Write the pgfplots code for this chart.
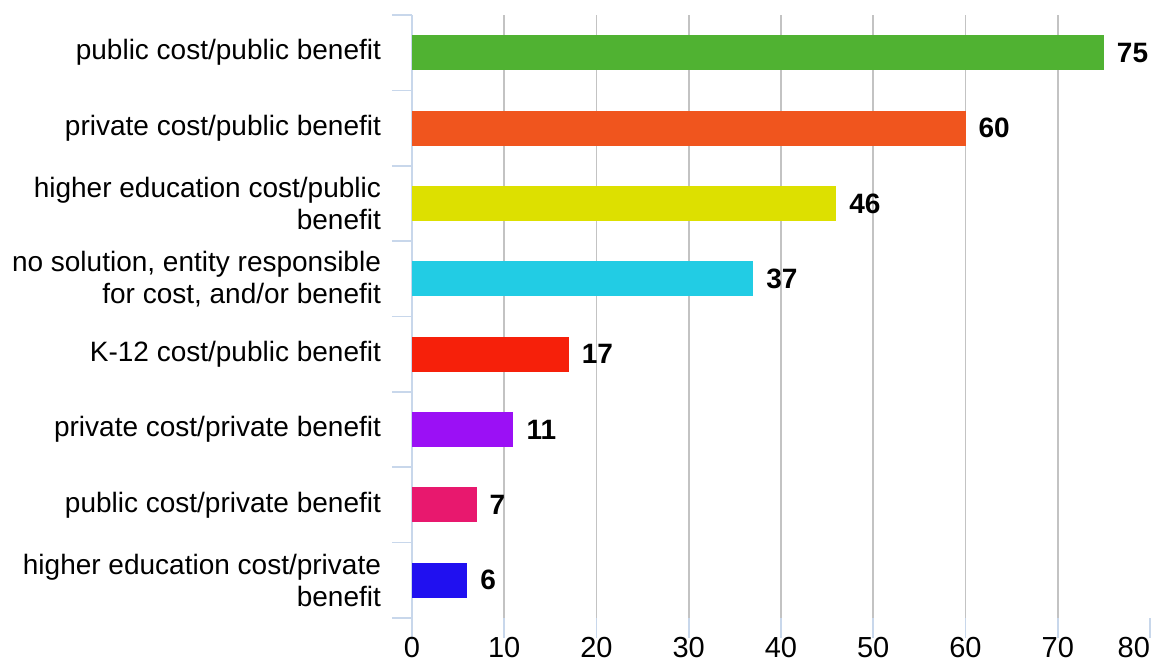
\documentclass[border=0pt]{standalone}
\usepackage{fontspec}
\setmainfont{Liberation Sans}
\usepackage{pgfplots}
\pgfplotsset{compat=1.18}
\definecolor{lb}{RGB}{200,215,235}
\definecolor{gr}{RGB}{195,195,195}
\definecolor{c1}{RGB}{80,178,50}
\definecolor{c2}{RGB}{240,85,30}
\definecolor{c3}{RGB}{221,224,0}
\definecolor{c4}{RGB}{34,204,228}
\definecolor{c5}{RGB}{246,32,10}
\definecolor{c6}{RGB}{155,16,245}
\definecolor{c7}{RGB}{232,24,110}
\definecolor{c8}{RGB}{32,16,240}
\begin{document}
\begin{tikzpicture}
\begin{axis}[
  name=ax,
  scale only axis,
  width=369pt, height=301.5pt,
  xmin=0, xmax=80, ymin=-0.5, ymax=7.5,
  enlarge x limits=false, enlarge y limits=false,
  xbar, bar width=17.5pt, bar shift=0pt,
  /pgf/number format/assume math mode=true,
  axis lines*=left, separate axis lines,
  x axis line style={draw=none},
  y axis line style={draw=lb, line width=1pt, shorten <=-11pt},
  tick align=outside,
  major tick length=10pt,
  xtick={0,10,...,80},
  xticklabels={0,10,20,30,40,50,60,70,\makebox[0pt][r]{80}},
  xtick style={draw=lb, line width=0.8pt},
  extra x ticks={10,20,...,70},
  extra x tick labels={},
  extra x tick style={grid=major, major tick length=0pt, xtick style={draw=none}},
  major grid style={draw=gr, line width=0.9pt},
  ytick={0,...,7},
  yticklabels={{higher education cost/private\\benefit},
    {public cost/private benefit},
    {private cost/private benefit},
    {K-12 cost/public benefit},
    {no solution, entity responsible\\for cost, and/or benefit},
    {higher education cost/public\\benefit},
    {private cost/public benefit},
    {public cost/public benefit}},
  yticklabel style={align=right, font=\fontsize{14}{16}\selectfont, xshift=-2pt},
  xticklabel style={font=\fontsize{14.5}{16}\selectfont, yshift=4pt},
  ytick style={draw=none},
  extra y ticks={-0.5,0.5,...,7.5},
  extra y tick labels={},
  extra y tick style={ytick style={draw=lb, line width=0.8pt}},
  nodes near coords={\textbf{\pgfmathprintnumber{\pgfplotspointmeta}}},
  nodes near coords style={font=\bfseries\fontsize{14}{16}\selectfont, anchor=west, xshift=3pt, text=black},
  every axis plot/.append style={draw=none},
]
\addplot[fill=c1] coordinates {(75,7)};
\addplot[fill=c2] coordinates {(60,6)};
\addplot[fill=c3] coordinates {(46,5)};
\addplot[fill=c4] coordinates {(37,4)};
\addplot[fill=c5] coordinates {(17,3)};
\addplot[fill=c6] coordinates {(11,2)};
\addplot[fill=c7] coordinates {(7,1)};
\addplot[fill=c8] coordinates {(6,0)};
\end{axis}
\pgfresetboundingbox
\path[use as bounding box] ([xshift=-206pt,yshift=-23pt]ax.south west) rectangle ([xshift=1.5pt,yshift=7.5pt]ax.north east);
\end{tikzpicture}
\end{document}
